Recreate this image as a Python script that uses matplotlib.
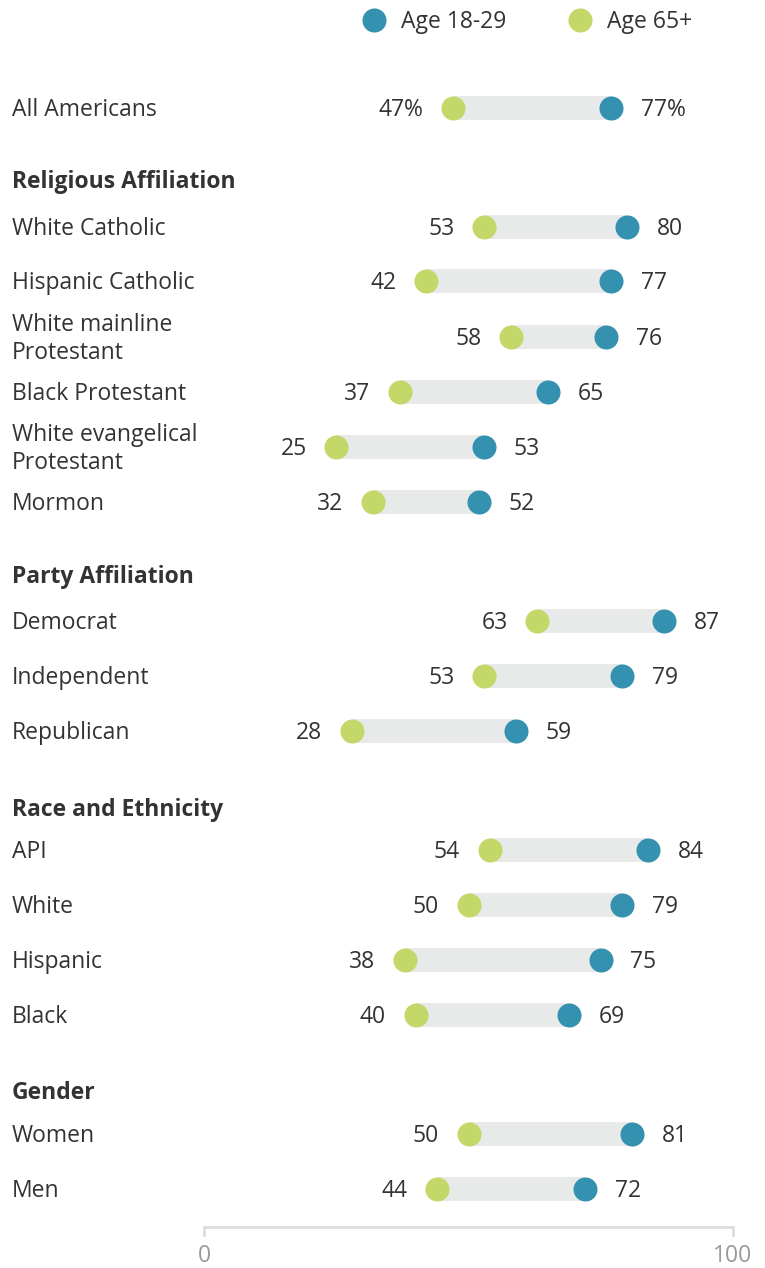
import matplotlib.pyplot as plt
from matplotlib import transforms

plt.rcParams['font.family'] = ['Open Sans', 'DejaVu Sans']

# data
labels = ["All Americans",
          "White Catholic", "Hispanic Catholic", "White mainline\nProtestant",
          "Black Protestant", "White evangelical\nProtestant", "Mormon",
          "Democrat", "Independent", "Republican",
          "API", "White", "Hispanic", "Black",
          "Women", "Men"]
young = [77, 80, 77, 76, 65, 53, 52, 87, 79, 59, 84, 79, 75, 69, 81, 72]
old = [47, 53, 42, 58, 37, 25, 32, 63, 53, 28, 54, 50, 38, 40, 50, 44]
headers = ["Religious Affiliation", "Party Affiliation", "Race and Ethnicity", "Gender"]
axis_ticks = [0, 100]

# layout (pixel rows, top down)
row_y = [108, 227, 281, 337, 392, 447, 502, 621, 676, 731, 850, 905, 960, 1015, 1134, 1189]
header_y = [180, 575, 808, 1091]

BLUE = "#3591b0"
GREEN = "#c4d86a"
BAR = "#e8e9e9"
TXT = "#333333"
FS = 16.5
DY = 2  # text sits slightly lower than the centre line

W, H = 765, 1268
fig = plt.figure(figsize=(W / 100, H / 100), dpi=100)
ax = fig.add_axes([0, 0, 1, 1])
px = 529 / 100.0  # pixels per unit
ax.set_xlim(-204 / px, (W - 204) / px)
ax.set_ylim(H, 0)
ax.axis("off")

lab = transforms.blended_transform_factory(fig.transFigure, ax.transData)

for i, (name, y, a, b) in enumerate(zip(labels, row_y, old, young)):
    ax.barh(y, b - a, left=a, height=24, color=BAR, zorder=1)
    ax.scatter([a], [y], s=300, color=GREEN, zorder=2, linewidths=0)
    ax.scatter([b], [y], s=300, color=BLUE, zorder=3, linewidths=0)
    sfx = "%" if i == 0 else ""
    ax.text(a - 5.6, y + DY, f"{a}{sfx}", ha="right", va="center", fontsize=FS, color=TXT)
    ax.text(b + 5.6, y + DY, f"{b}{sfx}", ha="left", va="center", fontsize=FS, color=TXT)
    ax.text(12 / W, y + DY, name, ha="left", va="center", fontsize=FS, color=TXT,
            transform=lab, linespacing=1.2)

for h, y in zip(headers, header_y):
    ax.text(12 / W, y + DY, h, ha="left", va="center", fontsize=FS, color=TXT,
            fontweight="bold", transform=lab)

# legend
ax.scatter([(374 - 204) / px], [20], s=300, color=BLUE, linewidths=0)
ax.text((401 - 204) / px, 20 + DY, "Age 18-29", ha="left", va="center", fontsize=FS, color=TXT)
ax.scatter([(580 - 204) / px], [20], s=300, color=GREEN, linewidths=0)
ax.text((607 - 204) / px, 20 + DY, "Age 65+", ha="left", va="center", fontsize=FS, color=TXT)

# axis
ax.plot([axis_ticks[0], axis_ticks[-1]], [1227, 1227], color="#dddddd", lw=2,
        solid_capstyle="butt")
for t in axis_ticks:
    ax.plot([t, t], [1227, 1235], color="#dddddd", lw=2)
    ax.text(t, 1256, str(t), ha="center", va="center", fontsize=FS, color="#999999",
            clip_on=False)

fig.savefig("out.png", dpi=100)
